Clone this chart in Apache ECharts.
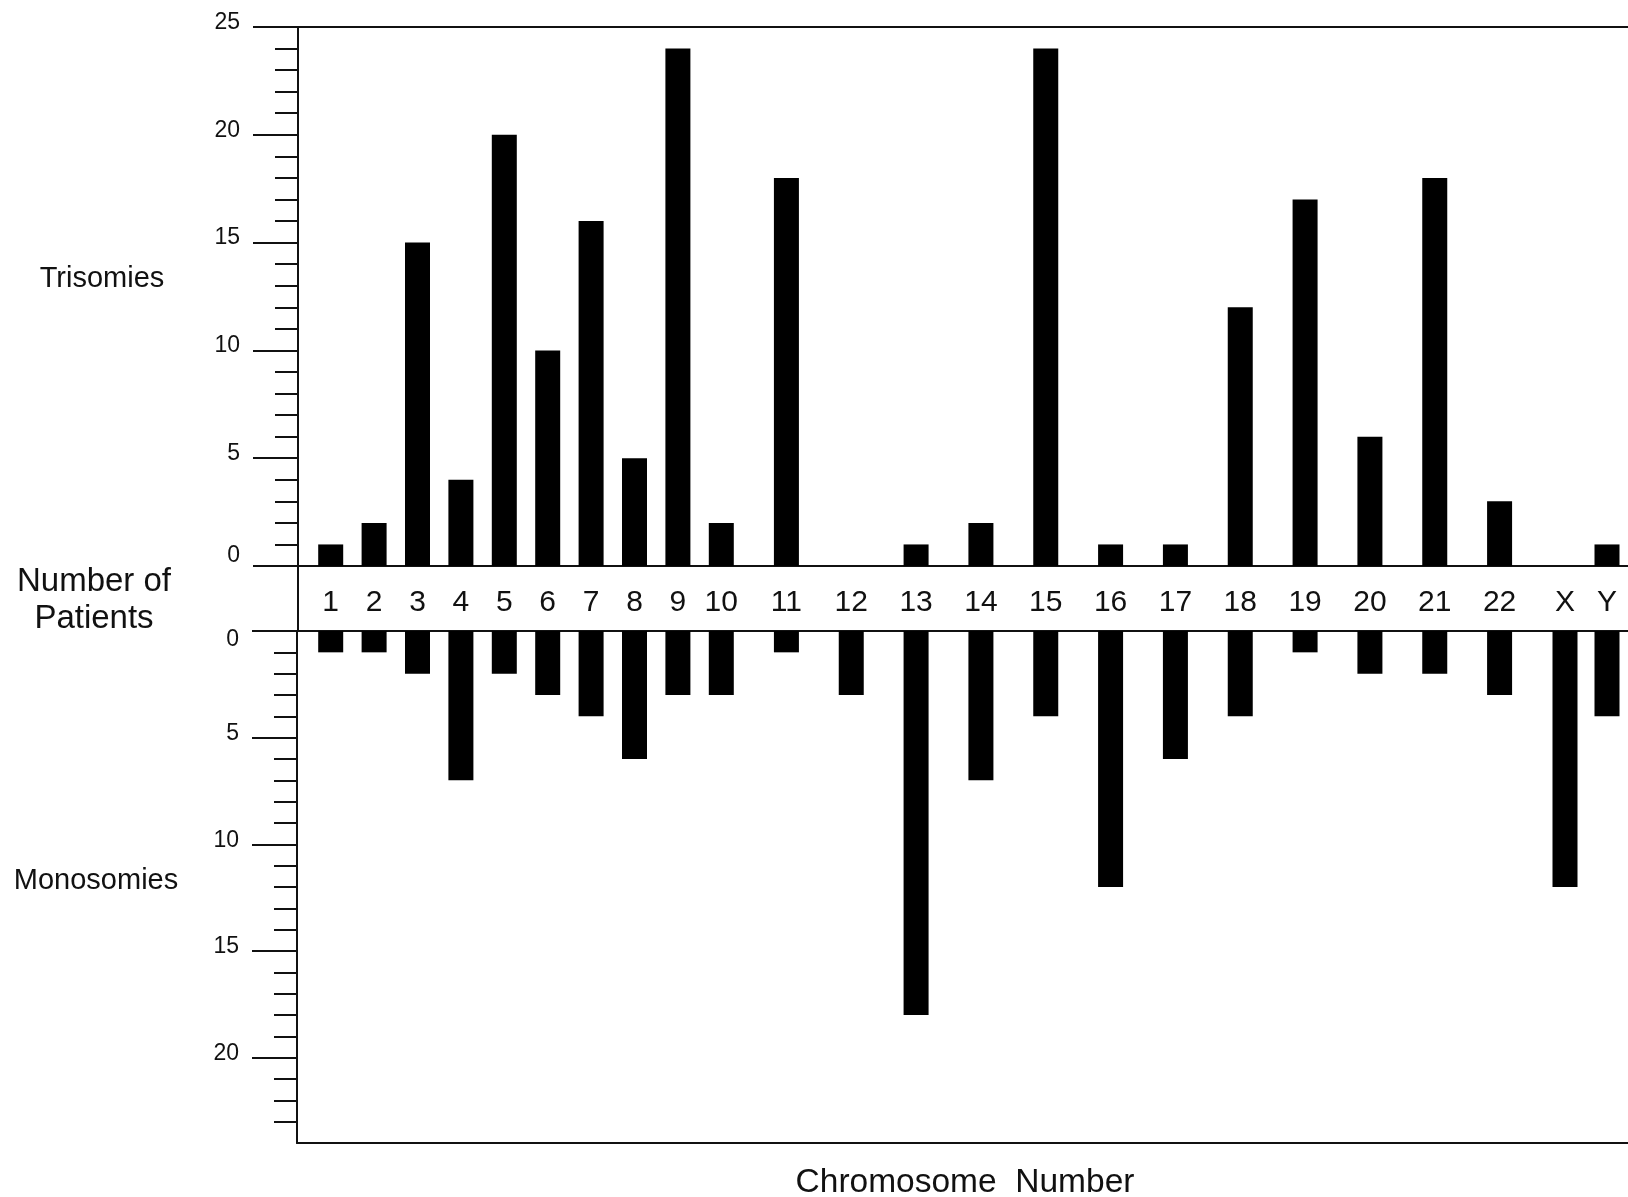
<!DOCTYPE html>
<html>
<head>
<meta charset="utf-8">
<title>Trisomies / Monosomies by chromosome</title>
<script src="https://cdn.jsdelivr.net/npm/echarts@6/dist/echarts.min.js"></script>
<style>
  html, body { margin: 0; padding: 0; background: #fff; }
  #main { width: 1628px; height: 1197px; }
</style>
</head>
<body>
<div id="main"></div>
<script>
// 数据
let categories = ["1", "2", "3", "4", "5", "6", "7", "8", "9", "10", "11", "12",
  "13", "14", "15", "16", "17", "18", "19", "20", "21", "22", "X", "Y"];
let trisomies = [1, 2, 15, 4, 20, 10, 16, 5, 24, 2, 18, 0, 1, 2, 24, 1, 1, 12, 17, 6, 18, 3, 0, 1];
let monosomies = [1, 1, 2, 7, 2, 3, 4, 6, 3, 3, 1, 3, 18, 7, 4, 12, 6, 4, 1, 2, 2, 3, 12, 4];
let trisomyTicks = [0, 5, 10, 15, 20, 25];
let monosomyTicks = [0, 5, 10, 15, 20];

let chart = echarts.init(document.getElementById("main"));
let font = "'Liberation Sans', Arial, Helvetica, sans-serif";
let ink = "#111";
let tickFont = 23;

// 布局
let axisX = 298;
let topPanel = { top: 27, height: 539 };   // 0..25
let bottomPanel = { top: 631, height: 512 }; // 0..24 (inverse)
// the original figure spaces 1-10, 11-22 and X/Y differently
let groups = [
  { start: 0, end: 10, left: 309, width: 434 },
  { start: 10, end: 22, left: 754, width: 778 },
  { start: 22, end: 24, left: 1544, width: 84 }
];

function minorTicks(max, majors) {
  let arr = [];
  for (let v = 1; v < max; v++) {
    if (majors.indexOf(v) < 0) arr.push(v);
  }
  return arr;
}

function frameLine(gridIndex, position) {
  return {
    gridIndex: gridIndex,
    type: "value",
    min: 0,
    max: 1,
    position: position,
    axisLine: { show: true, onZero: false, lineStyle: { color: ink, width: 2 } },
    axisTick: { show: false },
    axisLabel: { show: false },
    splitLine: { show: false }
  };
}

function majorAxis(gridIndex, max, inverse, ticks, rich) {
  return {
    gridIndex: gridIndex,
    type: "value",
    position: "left",
    min: 0,
    max: max,
    inverse: inverse,
    axisLine: { show: true, onZero: false, lineStyle: { color: ink, width: 2 } },
    axisTick: { show: true, inside: false, length: 45, customValues: ticks, lineStyle: { color: ink, width: 2 } },
    axisLabel: {
      show: true,
      customValues: ticks,
      margin: 58,
      color: ink,
      fontSize: tickFont,
      fontFamily: font,
      formatter: function (v) {
        return v === 0 ? "{z|0}" : "{n|" + v + "}";
      },
      rich: rich
    },
    splitLine: { show: false }
  };
}

function minorAxis(gridIndex, max, inverse, ticks) {
  return {
    gridIndex: gridIndex,
    type: "value",
    position: "left",
    min: 0,
    max: max,
    inverse: inverse,
    axisLine: { show: false, onZero: false },
    axisTick: { show: true, inside: false, length: 23, customValues: ticks, lineStyle: { color: ink, width: 2 } },
    axisLabel: { show: false },
    splitLine: { show: false }
  };
}

let grid = [], xAxis = [], yAxis = [], series = [];

// 0: trisomies frame
grid.push({ left: axisX, right: 0, top: topPanel.top, height: topPanel.height });
xAxis.push(frameLine(0, "bottom"), frameLine(0, "top"));
yAxis.push(
  majorAxis(0, 25, false, trisomyTicks, {
    n: { fontSize: tickFont, fontFamily: font, color: ink, padding: [0, 0, 9, 0] },
    z: { fontSize: tickFont, fontFamily: font, color: ink, padding: [0, 0, 20, 0] }
  }),
  minorAxis(0, 25, false, minorTicks(25, trisomyTicks))
);

// 1: monosomies frame
grid.push({ left: axisX - 1, right: 0, top: bottomPanel.top, height: bottomPanel.height });
xAxis.push(frameLine(1, "top"), frameLine(1, "bottom"));
yAxis.push(
  majorAxis(1, 24, true, monosomyTicks, {
    n: { fontSize: tickFont, fontFamily: font, color: ink, padding: [0, 0, 8, 0] },
    z: { fontSize: tickFont, fontFamily: font, color: ink, padding: [18, 0, 0, 0] }
  }),
  minorAxis(1, 24, true, minorTicks(24, monosomyTicks))
);

// 2: band between the panels (only the left line)
grid.push({ left: axisX, right: 0, top: topPanel.top + topPanel.height, height: bottomPanel.top - topPanel.top - topPanel.height });
xAxis.push({ gridIndex: 2, type: "value", show: false });
yAxis.push({
  gridIndex: 2,
  type: "value",
  position: "left",
  axisLine: { show: true, onZero: false, lineStyle: { color: ink, width: 2 } },
  axisTick: { show: false },
  axisLabel: { show: false },
  splitLine: { show: false }
});

// data grids
groups.map(g => {
  let cats = categories.slice(g.start, g.end);

  // trisomies
  let gi = grid.length;
  grid.push({ left: g.left, width: g.width, top: topPanel.top, height: topPanel.height });
  xAxis.push({
    gridIndex: gi,
    type: "category",
    data: cats,
    position: "bottom",
    axisLine: { show: false },
    axisTick: { show: false },
    axisLabel: { interval: 0, margin: 22, color: ink, fontSize: 30, fontFamily: font }
  });
  yAxis.push({ gridIndex: gi, type: "value", min: 0, max: 25, show: false });
  series.push({
    name: "Trisomies",
    type: "bar",
    xAxisIndex: xAxis.length - 1,
    yAxisIndex: yAxis.length - 1,
    barWidth: 25,
    itemStyle: { color: "#000" },
    data: trisomies.slice(g.start, g.end)
  });

  // monosomies
  gi = grid.length;
  grid.push({ left: g.left, width: g.width, top: bottomPanel.top, height: bottomPanel.height });
  xAxis.push({ gridIndex: gi, type: "category", data: cats, show: false });
  yAxis.push({ gridIndex: gi, type: "value", min: 0, max: 24, inverse: true, show: false });
  series.push({
    name: "Monosomies",
    type: "bar",
    xAxisIndex: xAxis.length - 1,
    yAxisIndex: yAxis.length - 1,
    barWidth: 25,
    itemStyle: { color: "#000" },
    data: monosomies.slice(g.start, g.end)
  });
});

function sideText(text, x, y, size, lineHeight) {
  return {
    type: "text",
    x: x,
    y: y,
    style: {
      text: text,
      fontSize: size,
      fontFamily: font,
      fill: ink,
      lineHeight: lineHeight || size,
      align: "center",
      verticalAlign: "middle",
      textAlign: "center",
      textVerticalAlign: "middle"
    }
  };
}

let option = {
  backgroundColor: "#fff",
  animation: false,
  grid: grid,
  xAxis: xAxis,
  yAxis: yAxis,
  series: series,
  graphic: [
    sideText("Trisomies", 102, 279, 29),
    sideText("Number of\nPatients", 94, 600, 33, 37),
    sideText("Monosomies", 96, 881, 29),
    sideText("Chromosome  Number", 965, 1183, 33.5)
  ]
};

chart.setOption(option, true);
</script>
</body>
</html>
